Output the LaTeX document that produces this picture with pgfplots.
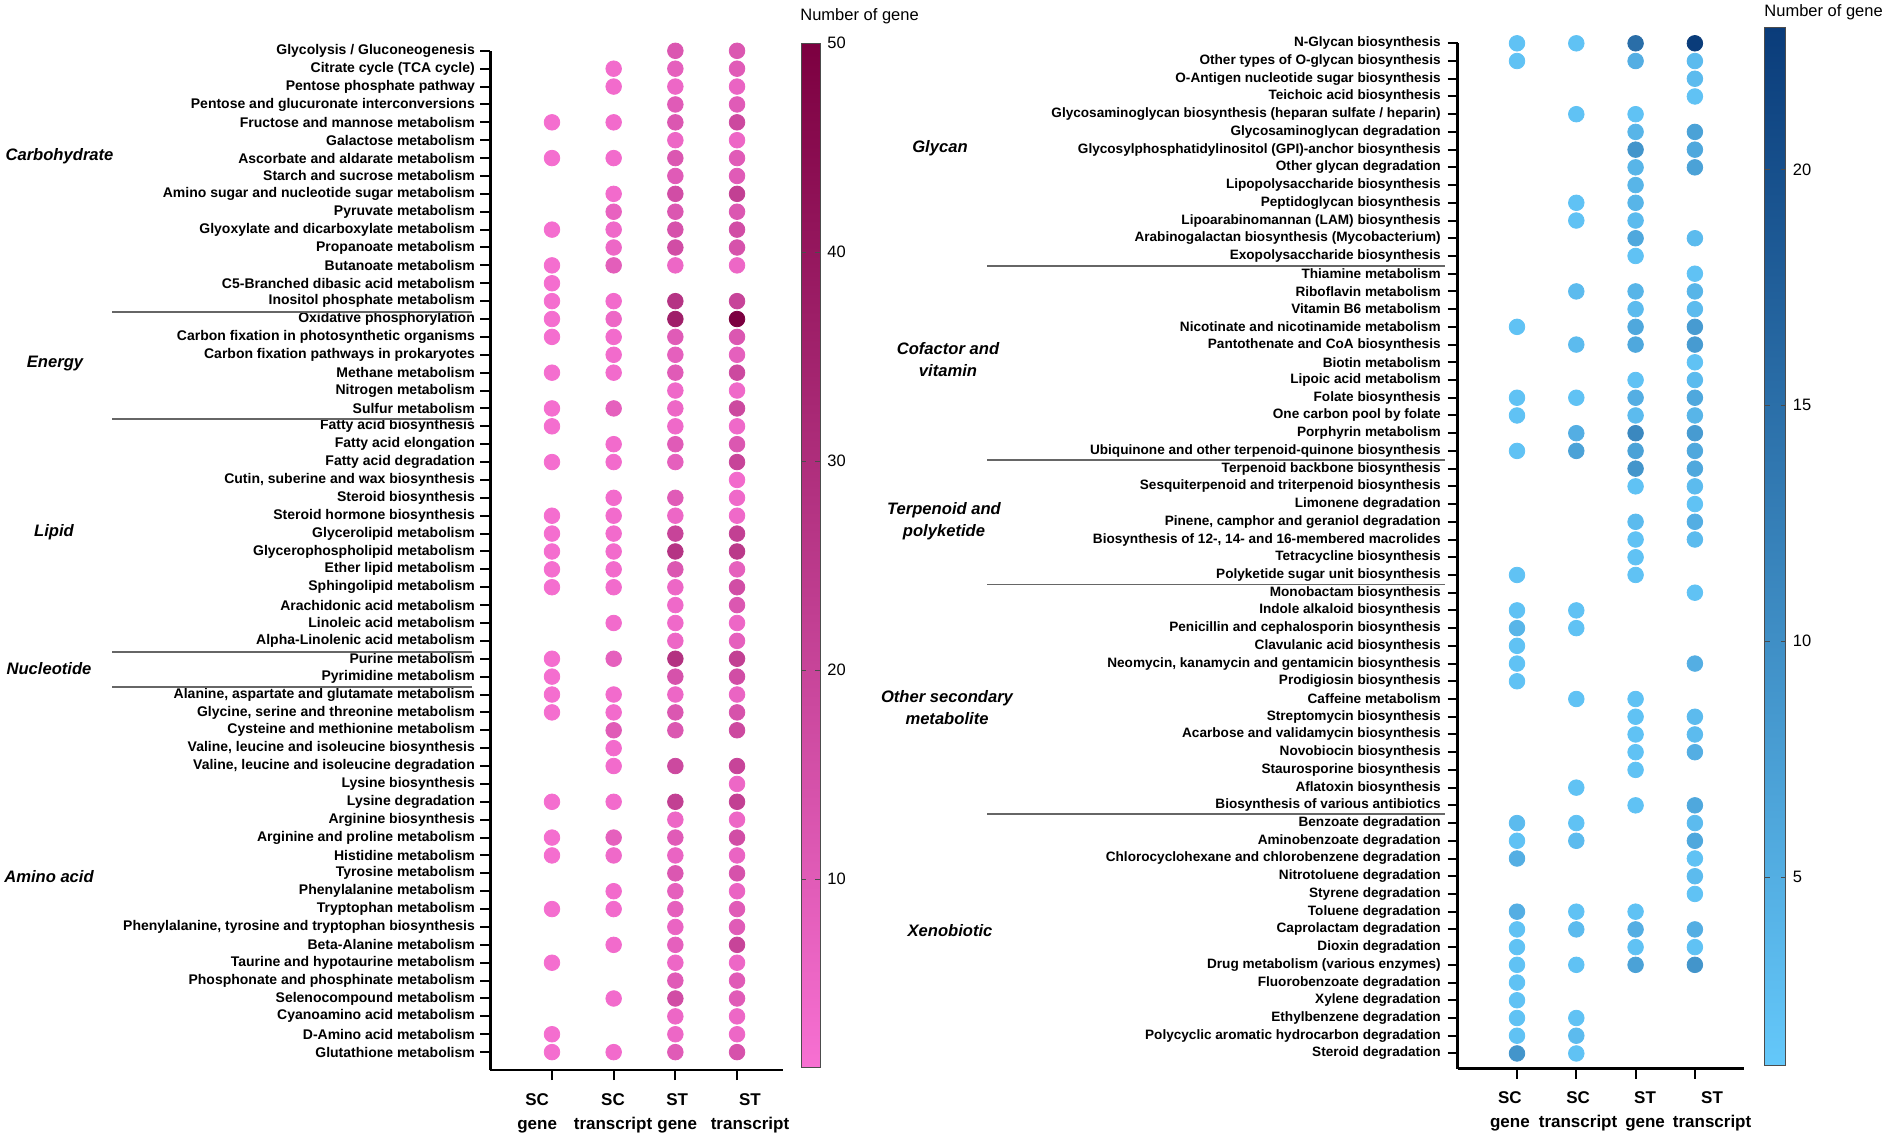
\documentclass[border=0pt]{standalone}
\usepackage{fontspec}
\setmainfont{Liberation Sans}
\usepackage{pgfplots}
\pgfplotsset{compat=1.18}

\pgfplotsset{
  colormap={pinkmap}{rgb255=(247,112,210) rgb255=(124,0,64)},
  colormap={bluemap}{rgb255=(100,200,250) rgb255=(10,60,122)},
  dotpanel/.style={
    scale only axis, clip=false,
    axis lines=left,
    axis line style={-, line width=1.3pt, black},
    tick align=outside, major tick length=5pt,
    tick style={line width=1pt, black},
    xmin=0,
    xtick={1,2,3,4},
    xticklabels={},
    /pgf/number format/assume math mode=true,
    colorbar,
  },
  dots/.style={
    scatter, only marks, mark=*, mark size=3.9pt,
    point meta=explicit,
    scatter/use mapped color={draw=mapped color, fill=mapped color},
  },
  cbar/.style={
    scale only axis,
    at={(parent axis.north east)}, anchor=north west,
    yticklabel style={font=\fontsize{8.25}{10}\selectfont},
    /pgf/number format/assume math mode=true,
    major tick length=2.5pt,
    tick style={black!70, line width=0.4pt},
    axis line style={black!70, line width=0.5pt},
  },
}
\tikzset{
  xlab/.style={anchor=north, inner sep=0pt, align=center,
    font=\fontsize{8.5}{12}\selectfont\bfseries, yshift=-11.4pt},
}

\begin{document}
\begin{tikzpicture}
\useasboundingbox (0,0) rectangle (945pt,-567pt);

% ---------------- left panel ----------------
\begin{axis}[
  dotpanel,
  at={(245.15pt,-535pt)}, anchor=south west,
  width=146.5pt, height=509.6pt,
  xmax=4.75, ymin=0, ymax=57,
  ytick={1,...,57},
  yticklabel style={font=\fontsize{7}{8}\selectfont\bfseries, xshift=0.8pt},
  yticklabels={
    Glutathione metabolism,
    D-Amino acid metabolism,
    Cyanoamino acid metabolism,
    Selenocompound metabolism,
    Phosphonate and phosphinate metabolism,
    Taurine and hypotaurine metabolism,
    Beta-Alanine metabolism,
    {Phenylalanine, tyrosine and tryptophan biosynthesis},
    Tryptophan metabolism,
    Phenylalanine metabolism,
    Tyrosine metabolism,
    Histidine metabolism,
    Arginine and proline metabolism,
    Arginine biosynthesis,
    Lysine degradation,
    Lysine biosynthesis,
    {Valine, leucine and isoleucine degradation},
    {Valine, leucine and isoleucine biosynthesis\ },
    Cysteine and methionine metabolism,
    {Glycine, serine and threonine metabolism},
    {Alanine, aspartate and glutamate metabolism},
    Pyrimidine metabolism,
    Purine metabolism,
    Alpha-Linolenic acid metabolism,
    Linoleic acid metabolism,
    Arachidonic acid metabolism,
    Sphingolipid metabolism,
    Ether lipid metabolism,
    Glycerophospholipid metabolism,
    Glycerolipid metabolism,
    Steroid hormone biosynthesis,
    Steroid biosynthesis,
    {Cutin, suberine and wax biosynthesis\ },
    Fatty acid degradation,
    Fatty acid elongation,
    Fatty acid biosynthesis,
    Sulfur metabolism,
    Nitrogen metabolism,
    Methane metabolism,
    Carbon fixation pathways in prokaryotes,
    Carbon fixation in photosynthetic organisms,
    Oxidative phosphorylation,
    Inositol phosphate metabolism,
    C5-Branched dibasic acid metabolism,
    Butanoate metabolism,
    Propanoate metabolism,
    Glyoxylate and dicarboxylate metabolism,
    Pyruvate metabolism,
    Amino sugar and nucleotide sugar metabolism,
    Starch and sucrose metabolism,
    Ascorbate and aldarate metabolism,
    Galactose metabolism,
    Fructose and mannose metabolism,
    Pentose and glucuronate interconversions,
    Pentose phosphate pathway,
    {Citrate cycle (TCA cycle)\ },
    Glycolysis / Gluconeogenesis},
  colormap name=pinkmap,
  point meta min=1, point meta max=50,
  colorbar style={cbar, xshift=0.5pt, yshift=3.85pt, width=9.5pt, height=512pt,
    ytick={10,20,30,40,50}},
]
\addplot[dots] coordinates {
  (3,57)[12] (4,57)[12]
  (2,56)[3] (3,56)[8] (4,56)[10]
  (2,55)[3] (3,55)[5] (4,55)[6]
  (3,54)[10] (4,54)[10]
  (1,53)[2] (2,53)[3] (3,53)[12] (4,53)[18]
  (3,52)[5] (4,52)[5]
  (1,51)[2] (2,51)[3] (3,51)[12] (4,51)[10]
  (3,50)[10] (4,50)[10]
  (2,49)[3] (3,49)[16] (4,49)[22]
  (2,48)[7] (3,48)[12] (4,48)[12]
  (1,47)[2] (2,47)[4] (3,47)[14] (4,47)[16]
  (2,46)[5] (3,46)[16] (4,46)[14]
  (1,45)[2] (2,45)[9] (3,45)[5] (4,45)[5]
  (1,44)[2]
  (1,43)[2] (2,43)[3] (3,43)[27] (4,43)[20]
  (1,42)[2] (2,42)[5] (3,42)[36] (4,42)[50]
  (1,41)[2] (2,41)[3] (3,41)[10] (4,41)[12]
  (2,40)[3] (3,40)[8] (4,40)[8]
  (1,39)[2] (2,39)[3] (3,39)[10] (4,39)[18]
  (3,38)[4] (4,38)[4]
  (1,37)[2] (2,37)[8] (3,37)[5] (4,37)[18]
  (1,36)[2] (3,36)[4] (4,36)[4]
  (2,35)[3] (3,35)[10] (4,35)[12]
  (1,34)[2] (2,34)[3] (3,34)[8] (4,34)[20]
  (4,33)[3]
  (2,32)[3] (3,32)[10] (4,32)[4]
  (1,31)[2] (2,31)[3] (3,31)[5] (4,31)[4]
  (1,30)[2] (2,30)[3] (3,30)[20] (4,30)[22]
  (1,29)[2] (2,29)[3] (3,29)[27] (4,29)[25]
  (1,28)[2] (2,28)[3] (3,28)[12] (4,28)[8]
  (1,27)[2] (2,27)[3] (3,27)[5] (4,27)[16]
  (3,26)[4] (4,26)[12]
  (2,25)[3] (3,25)[4] (4,25)[5]
  (3,24)[5] (4,24)[8]
  (1,23)[2] (2,23)[8] (3,23)[28] (4,23)[22]
  (1,22)[2] (3,22)[14] (4,22)[16]
  (1,21)[2] (2,21)[3] (3,21)[5] (4,21)[6]
  (1,20)[2] (2,20)[3] (3,20)[12] (4,20)[14]
  (2,19)[10] (3,19)[12] (4,19)[18]
  (2,18)[3]
  (2,17)[3] (3,17)[18] (4,17)[20]
  (4,16)[5]
  (1,15)[2] (2,15)[3] (3,15)[22] (4,15)[22]
  (3,14)[5] (4,14)[5]
  (1,13)[2] (2,13)[8] (3,13)[10] (4,13)[16]
  (1,12)[2] (2,12)[4] (3,12)[6] (4,12)[6]
  (3,11)[12] (4,11)[14]
  (2,10)[3] (3,10)[8] (4,10)[6]
  (1,9)[2] (2,9)[3] (3,9)[8] (4,9)[10]
  (3,8)[6] (4,8)[10]
  (2,7)[3] (3,7)[8] (4,7)[20]
  (1,6)[2] (3,6)[5] (4,6)[5]
  (3,5)[10] (4,5)[10]
  (2,4)[3] (3,4)[16] (4,4)[10]
  (3,3)[5] (4,3)[5]
  (1,2)[2] (3,2)[5] (4,2)[5]
  (1,1)[2] (2,1)[3] (3,1)[10] (4,1)[14]
};
\node[xlab] at (axis cs:0.76,0) {SC\\gene};
\node[xlab] at (axis cs:1.99,0) {SC\\transcript};
\node[xlab] at (axis cs:3.03,0) {ST\\gene};
\node[xlab] at (axis cs:4.21,0) {ST\\transcript};
\end{axis}

% ---------------- right panel ----------------
\begin{axis}[
  dotpanel,
  at={(728.85pt,-534.25pt)}, anchor=south west,
  width=143.2pt, height=512.6pt,
  xmax=4.83, ymin=0.15, ymax=58,
  ytick={1,...,58},
  yticklabel style={font=\fontsize{6.8}{8}\selectfont\bfseries},
  yticklabels={
    Steroid degradation,
    Polycyclic aromatic hydrocarbon degradation,
    {Ethylbenzene degradation\ },
    Xylene degradation,
    Fluorobenzoate degradation,
    Drug metabolism (various enzymes),
    Dioxin degradation,
    Caprolactam degradation,
    Toluene degradation,
    Styrene degradation,
    Nitrotoluene degradation,
    Chlorocyclohexane and chlorobenzene degradation,
    Aminobenzoate degradation,
    Benzoate degradation,
    Biosynthesis of various antibiotics,
    Aflatoxin biosynthesis,
    Staurosporine biosynthesis,
    Novobiocin biosynthesis,
    Acarbose and validamycin biosynthesis,
    Streptomycin biosynthesis,
    Caffeine metabolism,
    Prodigiosin biosynthesis,
    {Neomycin, kanamycin and gentamicin biosynthesis},
    Clavulanic acid biosynthesis,
    Penicillin and cephalosporin biosynthesis,
    Indole alkaloid biosynthesis,
    Monobactam biosynthesis,
    Polyketide sugar unit biosynthesis,
    {Tetracycline biosynthesis\ },
    {Biosynthesis of 12-, 14- and 16-membered macrolides},
    {Pinene, camphor and geraniol degradation},
    Limonene degradation,
    Sesquiterpenoid and triterpenoid biosynthesis,
    Terpenoid backbone biosynthesis,
    Ubiquinone and other terpenoid-quinone biosynthesis,
    Porphyrin metabolism,
    One carbon pool by folate,
    Folate biosynthesis,
    Lipoic acid metabolism,
    Biotin metabolism,
    Pantothenate and CoA biosynthesis,
    Nicotinate and nicotinamide metabolism,
    Vitamin B6 metabolism,
    Riboflavin metabolism,
    Thiamine metabolism,
    Exopolysaccharide biosynthesis,
    Arabinogalactan biosynthesis (Mycobacterium),
    Lipoarabinomannan (LAM) biosynthesis,
    Peptidoglycan biosynthesis,
    Lipopolysaccharide biosynthesis,
    Other glycan degradation,
    Glycosylphosphatidylinositol (GPI)-anchor biosynthesis,
    Glycosaminoglycan degradation,
    Glycosaminoglycan biosynthesis (heparan sulfate / heparin),
    {Teichoic acid biosynthesis\ },
    O-Antigen nucleotide sugar biosynthesis,
    Other types of O-glycan biosynthesis,
    N-Glycan biosynthesis},
  colormap name=bluemap,
  point meta min=1, point meta max=23,
  colorbar style={cbar, xshift=1.8pt, yshift=7.7pt, width=10.5pt, height=519pt,
    ytick={5,10,15,20}},
]
\addplot[dots] coordinates {
  (1,58)[2] (2,58)[2] (3,58)[15] (4,58)[23]
  (1,57)[2] (3,57)[5] (4,57)[3]
  (4,56)[3]
  (4,55)[2]
  (2,54)[2] (3,54)[2]
  (3,53)[4] (4,53)[7]
  (3,52)[9] (4,52)[6]
  (3,51)[4] (4,51)[7]
  (3,50)[4]
  (2,49)[2] (3,49)[4]
  (2,48)[2] (3,48)[3]
  (3,47)[6] (4,47)[3]
  (3,46)[2]
  (4,45)[2]
  (2,44)[3] (3,44)[4] (4,44)[4]
  (3,43)[3] (4,43)[3]
  (1,42)[2] (3,42)[6] (4,42)[8]
  (2,41)[3] (3,41)[6] (4,41)[8]
  (4,40)[2]
  (3,39)[2] (4,39)[3]
  (1,38)[2] (2,38)[2] (3,38)[5] (4,38)[6]
  (1,37)[2] (3,37)[3] (4,37)[4]
  (2,36)[5] (3,36)[11] (4,36)[8]
  (1,35)[2] (2,35)[7] (3,35)[7] (4,35)[6]
  (3,34)[9] (4,34)[6]
  (3,33)[2] (4,33)[3]
  (4,32)[2]
  (3,31)[3] (4,31)[5]
  (3,30)[2] (4,30)[3]
  (3,29)[2]
  (1,28)[2] (3,28)[2]
  (4,27)[2]
  (1,26)[2] (2,26)[2]
  (1,25)[4] (2,25)[2]
  (1,24)[2]
  (1,23)[2] (4,23)[5]
  (1,22)[2]
  (2,21)[2] (3,21)[2]
  (3,20)[2] (4,20)[3]
  (3,19)[2] (4,19)[3]
  (3,18)[2] (4,18)[5]
  (3,17)[2]
  (2,16)[2]
  (3,15)[2] (4,15)[6]
  (1,14)[3] (2,14)[2] (4,14)[3]
  (1,13)[2] (2,13)[3] (4,13)[6]
  (1,12)[5] (4,12)[2]
  (4,11)[3]
  (4,10)[2]
  (1,9)[5] (2,9)[2] (3,9)[2]
  (1,8)[2] (2,8)[3] (3,8)[5] (4,8)[5]
  (1,7)[2] (3,7)[2] (4,7)[2]
  (1,6)[2] (2,6)[2] (3,6)[7] (4,6)[9]
  (1,5)[2]
  (1,4)[2]
  (1,3)[2] (2,3)[2]
  (1,2)[2] (2,2)[3]
  (1,1)[9] (2,1)[2]
};
\node[xlab] at (axis cs:0.88,0.15) {SC\\gene};
\node[xlab] at (axis cs:2.03,0.15) {SC\\transcript};
\node[xlab] at (axis cs:3.16,0.15) {ST\\gene};
\node[xlab] at (axis cs:4.29,0.15) {ST\\transcript};
\end{axis}

% group separators
\begin{scope}[draw=black!60, line width=0.75pt]
  \draw (56pt,-156pt) -- (236pt,-156pt);
  \draw (56pt,-209.5pt) -- (236pt,-209.5pt);
  \draw (56pt,-326pt) -- (236pt,-326pt);
  \draw (56pt,-343.5pt) -- (236pt,-343.5pt);
  \draw (493.5pt,-133pt) -- (722.5pt,-133pt);
  \draw (493.5pt,-230pt) -- (722.5pt,-230pt);
  \draw (493.5pt,-292.15pt) -- (722.5pt,-292.15pt);
  \draw (493.5pt,-407pt) -- (722.5pt,-407pt);
\end{scope}

% group names
\begin{scope}[every node/.style={align=center, font=\fontsize{8.3}{11}\selectfont\bfseries\itshape}]
  \node at (29.75pt,-78pt) {Carbohydrate};
  \node at (27.5pt,-182pt) {Energy};
  \node at (27pt,-266pt) {Lipid};
  \node at (24.5pt,-334.5pt) {Nucleotide};
  \node at (24.5pt,-438.5pt) {Amino acid};
  \node at (470pt,-74pt) {Glycan};
  \node at (474pt,-180pt) {Cofactor and\\vitamin};
  \node at (472pt,-260.85pt) {Terpenoid and\\polyketide};
  \node at (473.5pt,-353.85pt) {Other secondary\\metabolite};
  \node at (475pt,-465.5pt) {Xenobiotic};
\end{scope}

% colour bar titles
\node[anchor=west, inner sep=0pt, font=\fontsize{8.25}{10}\selectfont] at (400pt,-8.2pt) {Number of gene};
\node[anchor=west, inner sep=0pt, font=\fontsize{8.25}{10}\selectfont] at (882pt,-6pt) {Number of gene};
\end{tikzpicture}
\end{document}
